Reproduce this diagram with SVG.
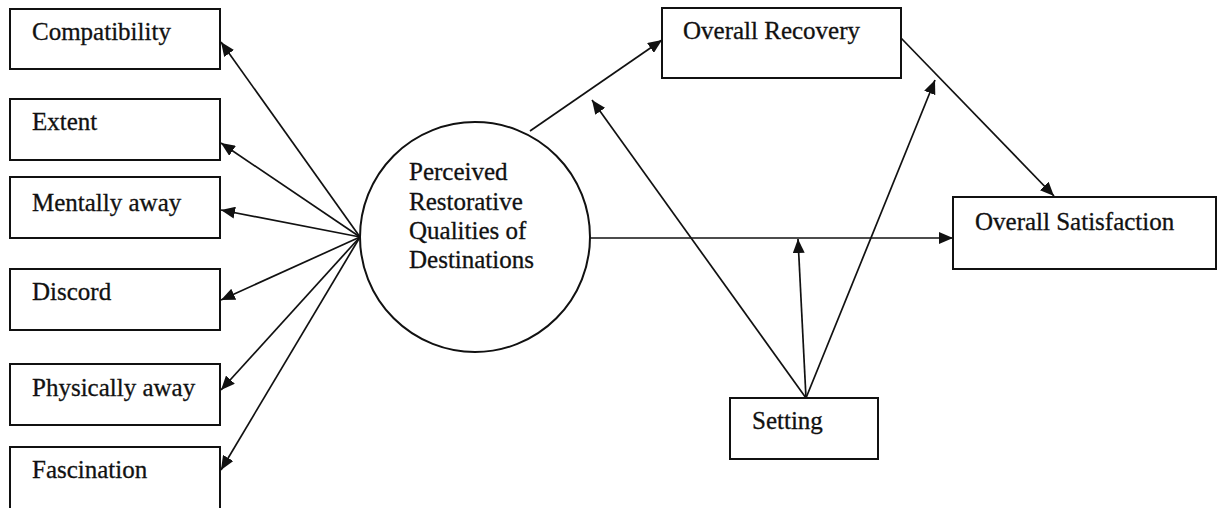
<svg xmlns="http://www.w3.org/2000/svg" width="1219" height="508" viewBox="0 0 1219 508">
  <style>
    .box { fill: #fff; stroke: #111; stroke-width: 2; }
    .lbl { font-family: "Liberation Serif", "Times New Roman", serif; font-size: 25px; fill: #111; stroke: #111; stroke-width: 0.3; }
    .edge { fill: none; stroke: #111; stroke-width: 1.7; marker-end: url(#arrow); }
  </style>
  <defs>
    <marker id="arrow" markerUnits="userSpaceOnUse" markerWidth="15" markerHeight="12" refX="14" refY="6" orient="auto">
      <path d="M0,0 L14,6 L0,12 Z" fill="#111"/>
    </marker>
  </defs>
  <rect width="1219" height="508" fill="#fff"/>

  <!-- connectors -->
  <g id="connectors">
    <!-- latent construct to its indicators -->
    <line class="edge" x1="360" y1="237" x2="221" y2="42"/>
    <line class="edge" x1="360" y1="237" x2="221" y2="143"/>
    <line class="edge" x1="360" y1="237" x2="221" y2="210"/>
    <line class="edge" x1="360" y1="237" x2="221" y2="300"/>
    <line class="edge" x1="360" y1="237" x2="221" y2="390"/>
    <line class="edge" x1="360" y1="237" x2="221" y2="470"/>
    <!-- structural paths -->
    <line class="edge" x1="530" y1="131" x2="662" y2="40"/>
    <line class="edge" x1="590" y1="238" x2="953" y2="238"/>
    <line class="edge" x1="901" y1="38" x2="1054" y2="196"/>
    <!-- moderating paths from Setting -->
    <line class="edge" x1="806" y1="398" x2="592" y2="100"/>
    <line class="edge" x1="806" y1="398" x2="798" y2="239"/>
    <line class="edge" x1="806" y1="398" x2="935" y2="80"/>
  </g>

  <g id="compatibility">
    <rect class="box" x="10" y="9" width="210" height="60"/>
    <text class="lbl" x="32" y="40">Compatibility</text>
  </g>
  <g id="extent">
    <rect class="box" x="10" y="99" width="210" height="61"/>
    <text class="lbl" x="32" y="130">Extent</text>
  </g>
  <g id="mentally-away">
    <rect class="box" x="10" y="177" width="210" height="61"/>
    <text class="lbl" x="32" y="211">Mentally away</text>
  </g>
  <g id="discord">
    <rect class="box" x="10" y="269" width="210" height="61"/>
    <text class="lbl" x="32" y="300">Discord</text>
  </g>
  <g id="physically-away">
    <rect class="box" x="10" y="364" width="210" height="61"/>
    <text class="lbl" x="32" y="396">Physically away</text>
  </g>
  <g id="fascination">
    <rect class="box" x="10" y="447" width="210" height="70"/>
    <text class="lbl" x="32" y="478">Fascination</text>
  </g>

  <g id="restorative-qualities">
    <circle class="box" cx="475" cy="237" r="115"/>
    <text class="lbl" x="409" y="180">Perceived</text>
    <text class="lbl" x="409" y="210">Restorative</text>
    <text class="lbl" x="409" y="239">Qualities of</text>
    <text class="lbl" x="409" y="268">Destinations</text>
  </g>

  <g id="overall-recovery">
    <rect class="box" x="662" y="8" width="239" height="70"/>
    <text class="lbl" x="683" y="39">Overall Recovery</text>
  </g>

  <g id="overall-satisfaction">
    <rect class="box" x="953" y="197" width="263" height="72"/>
    <text class="lbl" x="975" y="230">Overall Satisfaction</text>
  </g>

  <g id="setting">
    <rect class="box" x="730" y="398" width="148" height="61"/>
    <text class="lbl" x="752" y="429">Setting</text>
  </g>
</svg>
